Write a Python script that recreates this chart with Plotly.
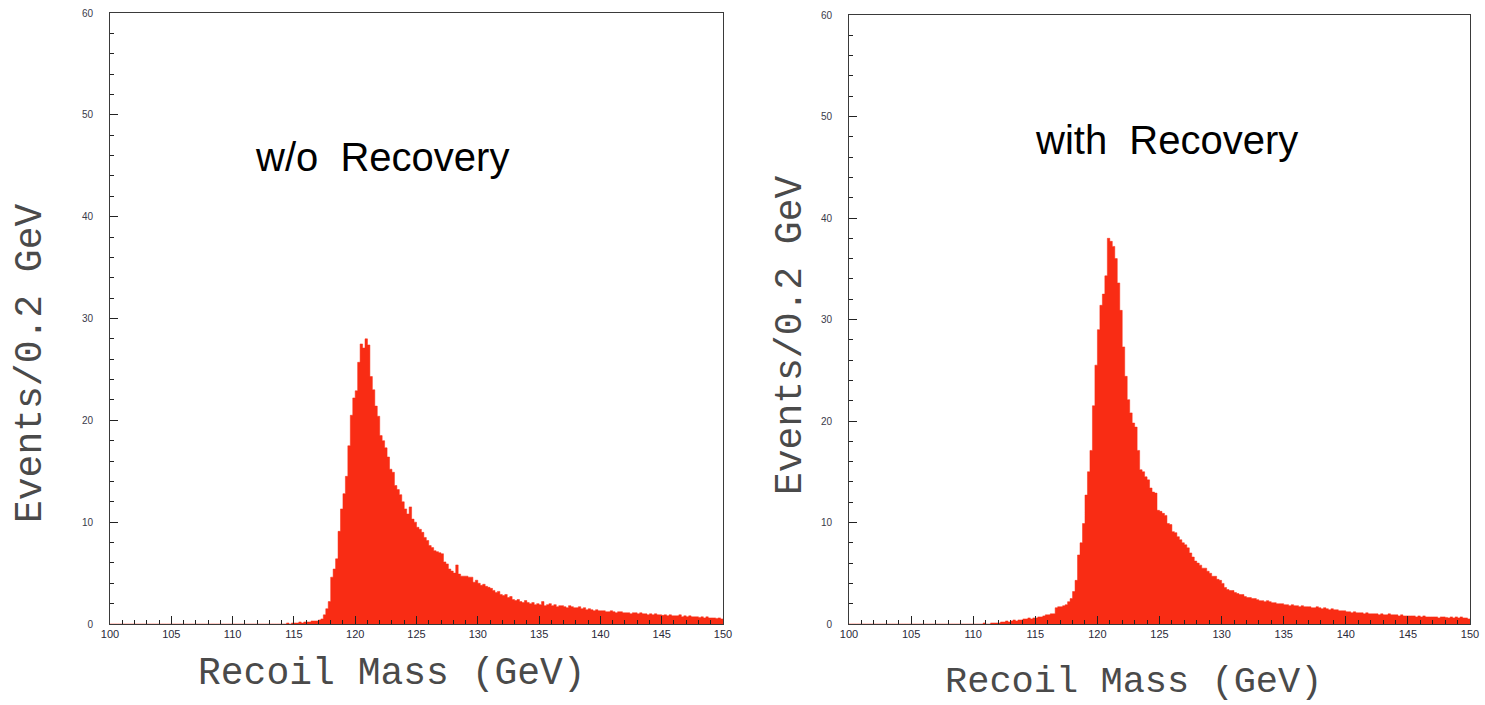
import plotly.graph_objects as go

# Recoil-mass spectra, 0.2 GeV bins from 100 to 150 GeV (5 bins per row, one row per GeV)
mass_lo, mass_hi, bin_w = 100.0, 150.0, 0.2

events_without = (
    [0, 0, 0, 0, 0] * 13 +                      # 100 - 112
    [0, 0, 0, 0, 0] +                           # 113
    [0, 0, 0.1, 0, 0.1] +                       # 114
    [0.1, 0.1, 0.2, 0.1, 0.2] +                 # 115
    [0.2, 0.2, 0.3, 0.3, 0.3] +                 # 116
    [0.4, 0.5, 0.9, 1.5, 2.2] +                 # 117
    [4.6, 5.4, 6.4, 9.1, 11.3] +                # 118
    [12.8, 14.5, 17.5, 20.5, 22.2] +            # 119
    [22.9, 25.7, 27.5, 27.1, 28.0] +            # 120
    [27.4, 24.3, 23.0, 21.4, 20.4] +            # 121
    [18.5, 18.0, 17.3, 16.4, 15.2] +            # 122
    [14.9, 13.6, 13.2, 12.7, 12.0] +            # 123
    [11.3, 10.8, 11.5, 10.3, 10.0] +            # 124
    [9.5, 9.3, 9.0, 8.5, 8.2] +                 # 125
    [7.7, 7.5, 7.2, 7.1, 7.0] +                 # 126
    [6.9, 6.1, 5.9, 5.4, 5.2] +                 # 127
    [5.0, 5.8, 4.9, 4.7, 4.7] +                 # 128
    [4.7, 4.6, 4.6, 4.1, 4.3] +                 # 129
    [4.0, 3.8, 3.9, 3.7, 3.6] +                 # 130
    [3.5, 3.3, 3.1, 3.2, 2.9] +                 # 131
    [2.8, 2.9, 2.6, 2.7, 2.4] +                 # 132
    [2.3, 2.4, 2.2, 2.1, 2.3] +                 # 133
    [2.1, 2.0, 2.1, 1.9, 2.0] +                 # 134
    [1.9, 2.2, 1.8, 1.9, 2.0] +                 # 135
    [1.8, 1.9, 1.7, 1.8, 1.8] +                 # 136
    [1.7, 1.6, 1.8, 1.7, 1.6] +                 # 137
    [1.6, 1.7, 1.5, 1.6, 1.4] +                 # 138
    [1.5, 1.4, 1.3, 1.4, 1.3] +                 # 139
    [1.3, 1.3, 1.2, 1.2, 1.3] +                 # 140
    [1.2, 1.1, 1.2, 1.2, 1.1] +                 # 141
    [1.1, 1.1, 1.0, 1.1, 1.1] +                 # 142
    [1.0, 1.1, 1.0, 1.0, 0.9] +                 # 143
    [1.0, 0.9, 1.0, 0.9, 0.9] +                 # 144
    [0.85, 0.9, 0.8, 0.9, 0.8] +                # 145
    [0.8, 0.8, 0.9, 0.7, 0.8] +                 # 146
    [0.7, 0.8, 0.7, 0.7, 0.7] +                 # 147
    [0.65, 0.7, 0.6, 0.7, 0.6] +                # 148
    [0.6, 0.6, 0.55, 0.6, 0.5]                  # 149
)

events_with = (
    [0, 0, 0, 0, 0] * 10 +                      # 100 - 109
    [0, 0, 0, 0, 0.1] +                         # 110
    [0, 0, 0.1, 0.1, 0.1] +                     # 111
    [0.1, 0.2, 0.2, 0.3, 0.2] +                 # 112
    [0.3, 0.4, 0.3, 0.4, 0.4] +                 # 113
    [0.5, 0.5, 0.6, 0.5, 0.6] +                 # 114
    [0.6, 0.7, 0.7, 0.8, 0.9] +                 # 115
    [0.9, 1.0, 1.0, 1.6, 1.7] +                 # 116
    [1.7, 1.8, 1.9, 2.2, 2.5] +                 # 117
    [3.2, 4.3, 6.8, 8.0, 9.9] +                 # 118
    [12.7, 15.0, 17.1, 21.5, 25.5] +            # 119
    [29.0, 31.4, 32.5, 34.3, 38.0] +            # 120
    [37.7, 37.2, 36.0, 33.6, 30.9] +            # 121
    [27.3, 24.4, 22.1, 20.8, 19.8] +            # 122
    [19.4, 17.1, 15.2, 15.0, 14.5] +            # 123
    [14.2, 13.4, 13.0, 12.9, 11.2] +            # 124
    [11.1, 10.9, 10.7, 9.9, 9.8] +              # 125
    [9.1, 9.0, 8.6, 8.3, 8.0] +                 # 126
    [7.8, 7.5, 7.0, 6.6, 6.2] +                 # 127
    [6.0, 5.8, 5.5, 5.5, 5.2] +                 # 128
    [5.0, 4.7, 4.7, 4.4, 4.3] +                 # 129
    [4.0, 3.6, 3.4, 3.3, 3.3] +                 # 130
    [3.1, 3.0, 2.9, 2.9, 2.7] +                 # 131
    [2.6, 2.6, 2.5, 2.5, 2.4] +                 # 132
    [2.3, 2.3, 2.2, 2.3, 2.2] +                 # 133
    [2.1, 2.1, 2.0, 2.0, 2.0] +                 # 134
    [1.9, 1.9, 1.8, 1.9, 1.8] +                 # 135
    [1.8, 1.7, 1.8, 1.7, 1.7] +                 # 136
    [1.7, 1.6, 1.6, 1.7, 1.6] +                 # 137
    [1.5, 1.6, 1.5, 1.4, 1.5] +                 # 138
    [1.4, 1.4, 1.3, 1.3, 1.3] +                 # 139
    [1.2, 1.2, 1.1, 1.2, 1.1] +                 # 140
    [1.1, 1.1, 1.0, 1.1, 1.0] +                 # 141
    [1.0, 1.0, 1.0, 0.9, 1.0] +                 # 142
    [0.9, 0.9, 1.0, 0.9, 0.9] +                 # 143
    [0.9, 0.8, 0.9, 0.8, 0.8] +                 # 144
    [0.8, 0.8, 0.8, 0.7, 0.8] +                 # 145
    [0.7, 0.8, 0.7, 0.7, 0.7] +                 # 146
    [0.7, 0.7, 0.6, 0.7, 0.7] +                 # 147
    [0.65, 0.6, 0.7, 0.6, 0.7] +                # 148
    [0.6, 0.7, 0.6, 0.6, 0.5]                   # 149
)

x_tick_vals = [100, 105, 110, 115, 120, 125, 130, 135, 140, 145, 150]
x_tick_text = ["100", "105", "110", "115", "120", "125", "130", "135", "140", "145", "150"]
y_tick_vals = [0, 10, 20, 30, 40, 50, 60]
y_tick_text = ["0", "10", "20", "30", "40", "50", "60"]

panel_titles = ["w/o  Recovery", "with  Recovery"]
x_title = "Recoil Mass (GeV)"
y_title = "Events/0.2 GeV"

W, H = 1485, 705
FILL = "rgb(249,44,20)"
FRAME = "#3a3a3a"
MONO = "Liberation Mono, Courier New, monospace"
SANS = "Liberation Sans, Arial, sans-serif"


def step_outline(counts):
    """Bin edges and counts laid out for an 'hv' step line closing at the last edge."""
    n = len(counts)
    edges = [mass_lo + bin_w * i for i in range(n + 1)]
    return edges, list(counts) + [counts[-1]]


def px_x(p):
    return p / W


def px_y(p):
    return 1 - p / H


fig = go.Figure()
for counts, xa, ya in [(events_without, "x", "y"), (events_with, "x2", "y2")]:
    ex, ey = step_outline(counts)
    fig.add_trace(go.Scatter(
        x=ex, y=ey, mode="lines", line=dict(shape="hv", color=FILL, width=0.5),
        fill="tozeroy", fillcolor=FILL, xaxis=xa, yaxis=ya,
        showlegend=False, hoverinfo="x+y"))

# plot-area pixel boxes: (left, right, top, bottom)
boxes = [(110, 723, 13, 624), (849, 1470, 15, 624)]


def x_axis(anchor, box):
    return dict(
        domain=[px_x(box[0]), px_x(box[1])], anchor=anchor, automargin=False,
        range=[mass_lo, mass_hi], showgrid=False, zeroline=False,
        showline=True, linecolor=FRAME, linewidth=1, mirror=True,
        tickmode="array", tickvals=x_tick_vals, ticktext=x_tick_text,
        ticks="inside", ticklen=8, tickwidth=1, tickcolor="#222",
        minor=dict(dtick=1, ticks="inside", ticklen=4, tickwidth=1, tickcolor="#222", showgrid=False),
        tickfont=dict(family=SANS, size=11, color="#2a2a3a"),
    )


def y_axis(anchor, box):
    return dict(
        domain=[px_y(box[3]), px_y(box[2])], anchor=anchor, automargin=False,
        range=[0, 60], showgrid=False, zeroline=False,
        showline=True, linecolor=FRAME, linewidth=1, mirror=True,
        tickmode="array", tickvals=y_tick_vals, ticktext=y_tick_text,
        ticks="inside", ticklen=8, tickwidth=1, tickcolor="#222",
        minor=dict(dtick=2, ticks="inside", ticklen=4, tickwidth=1, tickcolor="#222", showgrid=False),
        tickfont=dict(family=SANS, size=10, color="#3a3a4a"),
        ticklabelstandoff=14,
    )


annotations = [
    dict(text=panel_titles[0], x=px_x(382), y=px_y(157), font=dict(family=SANS, size=40, color="black")),
    dict(text=panel_titles[1], x=px_x(1166), y=px_y(140), font=dict(family=SANS, size=40, color="black")),
    dict(text=x_title, x=px_x(392), y=px_y(673), font=dict(family=MONO, size=38, color="#4a4a4a")),
    dict(text=x_title, x=px_x(1133), y=px_y(682), font=dict(family=MONO, size=37, color="#4a4a4a")),
    dict(text=y_title, x=px_x(30), y=px_y(364), textangle=-90, font=dict(family=MONO, size=38, color="#4a4a4a")),
    dict(text=y_title, x=px_x(790), y=px_y(336), textangle=-90, font=dict(family=MONO, size=38, color="#4a4a4a")),
]
for a in annotations:
    a.update(xref="paper", yref="paper", showarrow=False, xanchor="center", yanchor="middle")

fig.update_layout(
    width=W, height=H, margin=dict(l=0, r=0, t=0, b=0, pad=0, autoexpand=False),
    paper_bgcolor="white", plot_bgcolor="white",
    xaxis=x_axis("y", boxes[0]), yaxis=y_axis("x", boxes[0]),
    xaxis2=x_axis("y2", boxes[1]), yaxis2=y_axis("x2", boxes[1]),
    annotations=annotations,
)

fig.write_html("out.html")
